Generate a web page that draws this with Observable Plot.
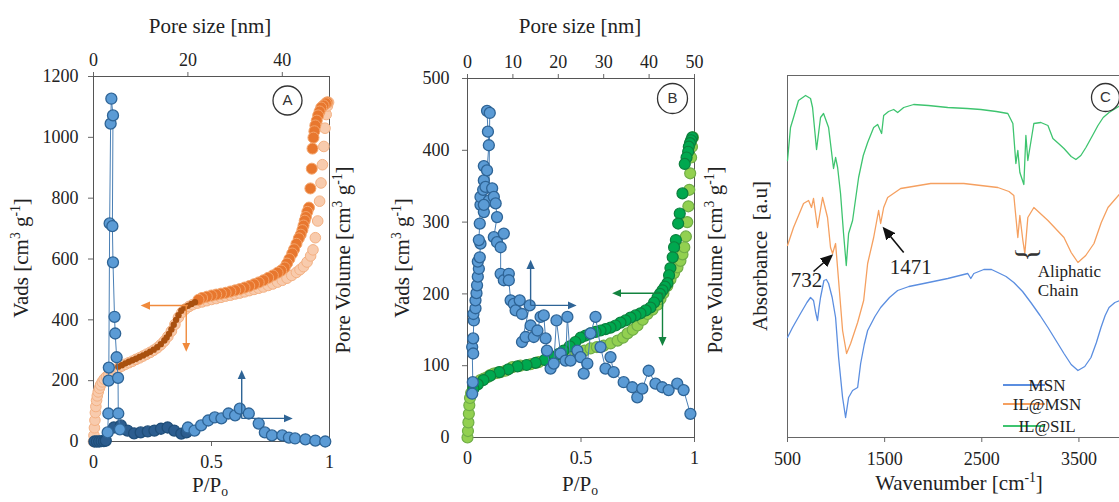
<!DOCTYPE html>
<html><head><meta charset="utf-8">
<script src="https://cdn.jsdelivr.net/npm/d3@7"></script>
<script src="https://cdn.jsdelivr.net/npm/@observablehq/plot@0.6"></script>
<style>
html,body{margin:0;padding:0;background:#fff;overflow:hidden}
#wrap{position:relative;width:1119px;height:502px;overflow:hidden;background:#fff}
#wrap svg{position:absolute;top:0;overflow:visible}
</style></head><body><div id="wrap"></div>
<script>
// ---------------- DATA ----------------
const PORE_MAX = 50; // top axis (pore size, nm) spans the same width as P/P0 0..1

// Panel A: N2 isotherm (P/P0, Vads cm3/g)
const adsorptionA = [[0,0],[0.002,20],[0.004,45],[0.006,70],[0.008,95],[0.010,115],[0.013,135],[0.016,150],[0.02,163],[0.025,175],[0.03,186],[0.037,196],[0.045,205],[0.055,213],[0.065,220],[0.078,228],[0.092,236],[0.105,242],[0.12,248],[0.135,254],[0.15,259],[0.165,264],[0.18,270],[0.195,275],[0.21,281],[0.225,287],[0.24,293],[0.255,300],[0.27,308],[0.285,318],[0.30,330],[0.315,345],[0.33,363],[0.345,385],[0.36,408],[0.375,425],[0.39,436],[0.405,444],[0.42,450],[0.44,455],[0.46,459],[0.48,463],[0.50,467],[0.52,470],[0.54,474],[0.56,478],[0.58,481],[0.60,485],[0.62,488],[0.64,492],[0.66,496],[0.68,500],[0.70,504],[0.72,508],[0.74,513],[0.76,518],[0.78,524],[0.80,530],[0.82,537],[0.84,546],[0.86,556],[0.875,565],[0.89,575],[0.905,590],[0.92,610],[0.93,630],[0.94,670],[0.95,725],[0.958,790],[0.964,850],[0.97,910],[0.976,970],[0.981,1030],[0.986,1075],[0.991,1103],[0.996,1115]];
const desorptionUpperA = [[0.99,1115],[0.985,1112],[0.975,1105],[0.965,1098],[0.958,1085],[0.952,1072],[0.946,1055],[0.94,1039],[0.936,1020],[0.932,999],[0.928,963],[0.925,897],[0.919,832],[0.913,769],[0.906,755],[0.9,738],[0.895,726],[0.89,710],[0.885,695],[0.878,680],[0.87,668],[0.86,650],[0.85,632],[0.842,618],[0.83,600],[0.82,585],[0.81,572],[0.795,562],[0.78,555],[0.76,546],[0.74,538],[0.72,530],[0.70,523],[0.68,517],[0.66,511],[0.64,506],[0.62,501],[0.60,497],[0.58,493],[0.56,489],[0.54,486],[0.52,483],[0.50,480],[0.48,476],[0.46,472],[0.445,466]];
const desorptionLowerA = [[0.43,458],[0.415,452],[0.40,446],[0.385,440],[0.372,430],[0.36,415],[0.35,400],[0.34,384],[0.33,368],[0.32,354],[0.31,342],[0.30,332],[0.285,320],[0.27,310],[0.255,302],[0.24,295],[0.225,289],[0.21,283],[0.195,278],[0.18,272],[0.165,267],[0.15,262],[0.135,257],[0.12,251],[0.105,246]];
// Panel A: pore size distribution (pore size nm, pore volume drawn on the unlabeled right axis)
const psdPeakA = [[3.0,30],[3.15,92],[3.2,200],[3.25,243],[3.42,717],[3.63,1045],[3.78,1127],[4.13,1072],[4.0,708],[4.13,589],[4.45,410],[4.6,355],[4.9,277],[5.2,209],[5.25,92],[5.6,40]];
const psdMidA = [[0.2,0],[0.7,0],[1.2,0],[1.7,1],[2.2,1],[2.6,3],[4.3,46],[5.8,53],[7.2,36],[8.6,27],[10.0,30],[11.5,33],[12.9,36],[14.3,42],[15.7,46],[17.1,36],[18.6,26],[19.7,30]];
const psdTailA = [[20.0,46],[21.4,36],[22.8,53],[24.3,69],[25.7,79],[27.1,76],[28.6,92],[30.0,86],[31.0,108],[32.9,92],[35.0,59],[36.3,30],[37.8,20],[40.0,20],[41.4,13],[42.7,10],[44.9,7],[47.0,3],[49.1,0]];
const isoArrowsA = [[0.40,447,0.214,447],[0.393,447,0.393,306]];      // P/P0, Vads
const psdArrowsA = [[31.4,76,31.4,224],[31.4,76,41.5,76]];            // nm, pore volume

// Panel B
const adsorptionB = [[0,0],[0.002,9],[0.004,21],[0.006,33],[0.008,45],[0.011,55],[0.016,62],[0.027,70],[0.042,76],[0.057,80],[0.072,82],[0.088,84],[0.1,87],[0.115,89],[0.13,90],[0.145,91],[0.167,93],[0.198,98],[0.233,100],[0.278,102],[0.313,105],[0.352,107],[0.366,110],[0.395,112],[0.423,114],[0.455,116],[0.484,119],[0.515,121],[0.542,124],[0.57,126],[0.6,128],[0.63,131],[0.661,135],[0.685,139],[0.705,145],[0.728,150],[0.749,156],[0.772,164],[0.793,172],[0.815,178],[0.837,185],[0.85,193],[0.863,201],[0.88,211],[0.894,220],[0.91,229],[0.925,237],[0.938,246],[0.947,255],[0.955,265],[0.962,280],[0.968,300],[0.973,322],[0.977,345],[0.981,368],[0.985,390],[0.989,405],[0.993,418]];
const desorptionB = [[0.99,418],[0.985,414],[0.98,410],[0.975,405],[0.972,398],[0.965,390],[0.957,381],[0.947,340],[0.935,312],[0.928,298],[0.918,275],[0.91,265],[0.904,251],[0.894,236],[0.888,226],[0.881,215],[0.87,210],[0.859,205],[0.848,200],[0.837,195],[0.822,188],[0.806,181],[0.785,177],[0.762,173],[0.74,170],[0.718,167],[0.696,163],[0.674,160],[0.652,156],[0.63,153],[0.608,151],[0.586,149],[0.564,147],[0.542,145],[0.52,142],[0.498,139],[0.475,133],[0.45,127],[0.423,121],[0.4,116],[0.37,112],[0.34,108],[0.3,104],[0.26,101],[0.22,99],[0.18,95],[0.14,91],[0.1,86],[0.07,80],[0.045,74],[0.026,68]];
const psdB = [[1.03,61],[1.17,77],[1.03,126],[1.25,117],[1.25,138],[1.4,163],[1.3,172],[1.76,180],[1.76,191],[1.98,201],[2.1,212],[2.27,224],[2.5,235],[2.27,245],[2.7,251],[2.86,270],[2.5,275],[2.7,298],[2.86,324],[2.86,335],[3.45,345],[3.6,358],[3.6,378],[4.3,372],[4.7,407],[4.5,426],[4.3,455],[4.9,452],[4.7,330],[3.6,314],[3.96,349],[3.6,324],[5.43,347],[5.8,335],[6.2,326],[6.5,307],[5.8,279],[6.5,272],[8.0,284],[7.3,265],[7.3,228],[8.0,219],[9.1,228],[9.1,219],[9.5,191],[10.2,186],[10.6,177],[11.5,191],[12.0,172],[13.7,184],[12.0,133],[12.8,140],[13.9,156],[14.6,140],[15.4,149],[16.1,168],[16.8,170],[17.2,138],[17.5,121],[18.3,96],[19.0,103],[19.6,163],[20.5,117],[21.6,107],[22.0,168],[22.7,107],[24.2,121],[24.9,112],[25.6,89],[26.4,103],[27.1,145],[28.2,168],[29.3,126],[30.4,96],[31.5,112],[32.2,91],[34.4,77],[36.3,70],[37.4,56],[38.5,68],[39.9,93],[41.4,75],[42.9,70],[44.3,66],[46.2,75],[47.6,66],[49.1,33]];
const isoArrowsB = [[0.859,201,0.652,201],[0.859,201,0.859,132]];
const psdArrowsB = [[13.9,184,13.9,243],[13.9,184,23.3,184]];

// Panel C: FTIR (wavenumber cm-1, absorbance a.u.)
const ftirMSN = [[500,100],[552,110],[634,124],[700,135],[737,140],[768,137],[790,125],[809,117],[825,130],[840,140],[875,157],[900,158],[923,154],[960,140],[995,120],[1026,80],[1067,40],[1098,20],[1129,40],[1170,47],[1222,50],[1253,74],[1290,93],[1325,107],[1400,121],[1459,130],[1550,140],[1634,147],[1750,151],[1902,154],[2150,159],[2356,164],[2387,159],[2418,164],[2521,168],[2600,168],[2665,165],[2750,161],[2830,155],[2920,146],[3005,135],[3100,122],[3181,110],[3270,96],[3346,84],[3420,73],[3490,67],[3560,71],[3624,80],[3680,95],[3727,110],[3770,122],[3810,130],[3870,135],[3923,137],[4000,138]];
const ftirILMSN = [[500,192],[562,210],[665,234],[717,237],[747,230],[768,239],[809,210],[861,240],[912,220],[943,190],[964,184],[995,194],[1026,157],[1067,107],[1108,84],[1150,94],[1222,115],[1284,137],[1325,174],[1387,200],[1438,227],[1459,214],[1490,230],[1531,240],[1665,249],[1974,254],[2315,254],[2665,250],[2780,246],[2830,242],[2871,200],[2892,222],[2923,197],[2943,184],[2974,220],[3036,230],[3181,217],[3346,200],[3420,185],[3490,175],[3570,182],[3655,194],[3730,215],[3799,230],[3923,244],[4000,248]];
const ftirILSIL = [[500,277],[531,310],[562,320],[613,337],[686,342],[737,339],[758,330],[799,288],[840,320],[871,324],[923,310],[964,277],[974,269],[995,280],[1016,270],[1046,244],[1077,204],[1105,172],[1129,204],[1170,217],[1232,260],[1280,282],[1325,295],[1387,310],[1428,313],[1469,304],[1490,322],[1540,326],[1593,328],[1634,325],[1696,330],[1799,333],[1950,332],[2150,330],[2350,329],[2490,328],[2650,326],[2768,324],[2820,314],[2851,274],[2871,287],[2892,265],[2933,253],[2954,302],[2974,277],[3036,314],[3108,315],[3181,312],[3232,299],[3290,294],[3346,289],[3420,281],[3469,278],[3520,282],[3572,290],[3640,302],[3696,312],[3750,320],[3810,325],[3923,332],[4000,336]];
const ftirSeries = ["MSN", "IL@MSN", "IL@SIL"];
const ftirArrows = [[768,166,933,180],[1696,185,1510,207]];
const ftirNotes = [["732",696,157],["1471",1768,170]];
const aliphaticNote = ["Aliphatic","Chain"];

// ticks
const pTicks = [0, 0.5, 1];
const poreTicksA = [0, 20, 40];
const poreTicksB = [0, 10, 20, 30, 40, 50];
const vadsTicksA = [0, 200, 400, 600, 800, 1000, 1200];
const vadsTicksB = [0, 100, 200, 300, 400, 500];
const wnTicks = [500, 1500, 2500, 3500];

// ---------------- RENDER ----------------
const SERIF = "'Liberation Serif','Times New Roman',serif";
const SANS = "'Liberation Sans',Arial,sans-serif";
const xy = a => a.map(([x, y]) => ({x, y}));
const seg = a => a.map(([x1, y1, x2, y2]) => ({x1, y1, x2, y2}));
const fmt = d => String(d);
const wrap = d3.select("#wrap");
const baseStyle = {fontFamily: SERIF, fontSize: "18px", color: "#222", background: "none", overflow: "visible"};

function richText(svg, {x, y, rotate = 0, size = 21, anchor = "middle", family = SERIF}, parts) {
  const t = svg.append("text").attr("transform", `translate(${x},${y}) rotate(${rotate})`)
    .attr("text-anchor", anchor).attr("font-family", family).attr("font-size", size).attr("fill", "#222");
  let shift = 0;
  for (const [s, kind] of parts) {
    const target = kind === "sup" ? -0.36 * size : kind === "sub" ? 0.2 * size : 0;
    const ts = t.append("tspan").text(s).attr("dy", target - shift);
    if (kind) ts.attr("font-size", size * 0.65);
    shift = target;
  }
}
function fillMarkers(svg, size = 8) {
  svg.selectAll("marker").each(function () {
    const m = d3.select(this);
    const col = m.attr("stroke");
    m.attr("fill", col).attr("stroke", "none").attr("markerWidth", size).attr("markerHeight", size);
    m.select("path").attr("d", "M-6,-4L3,0L-6,4Z");
  });
}
const circleLabel = (letter, dx, dy, r) => [
  Plot.dot([letter], {frameAnchor: "top-right", dx, dy, r, fill: "white", stroke: "#333", strokeWidth: 1.3}),
  Plot.text([letter], {frameAnchor: "top-right", dx, dy, text: d => d, textAnchor: "middle", lineAnchor: "middle", fontFamily: SANS, fontSize: 15, fill: "#333"})
];
const unit = [["["], ["cm"], ["3", "sup"], [" g"], ["-1", "sup"], ["]"]];

// Panel A
const A = Plot.plot({
  width: 370, height: 502, marginLeft: 93, marginRight: 41, marginTop: 76, marginBottom: 61,
  x: {domain: [0, 1]}, y: {domain: [0, 1200]}, style: baseStyle,
  marks: [
    Plot.axisX({anchor: "bottom", ticks: pTicks, tickFormat: fmt, tickSize: 5, tickPadding: 9, label: null, stroke: "#666"}),
    Plot.axisX({anchor: "top", ticks: poreTicksA.map(d => d / PORE_MAX), tickFormat: d => String(Math.round(d * PORE_MAX)), tickSize: 5, tickPadding: 6, label: null, stroke: "#666"}),
    Plot.axisY({ticks: vadsTicksA, tickFormat: fmt, tickSize: 5, tickPadding: 10, label: null, stroke: "#666"}),
    Plot.frame({stroke: "#555"}),
    Plot.dot(xy(adsorptionA), {x: "x", y: "y", r: 5.3, fill: "#f8cbad", stroke: "#f4b183", strokeWidth: 1}),
    Plot.dot(xy(desorptionUpperA), {x: "x", y: "y", r: 5.5, fill: "#e8772e", stroke: "#f4a46a", strokeWidth: 1}),
    Plot.dot(xy(desorptionLowerA), {x: "x", y: "y", r: 3.2, fill: "#a9500f"}),
    Plot.line(xy(psdMidA), {x: d => d.x / PORE_MAX, y: "y", stroke: "#1f4e79", strokeWidth: 1}),
    Plot.dot(xy(psdMidA), {x: d => d.x / PORE_MAX, y: "y", r: 5.5, fill: "#2c5d8f", stroke: "#1f4e79", strokeWidth: 1.3}),
    Plot.line(xy(psdPeakA), {x: d => d.x / PORE_MAX, y: "y", stroke: "#4a7fb5", strokeWidth: 1}),
    Plot.dot(xy(psdPeakA), {x: d => d.x / PORE_MAX, y: "y", r: 5.5, fill: "#5b9bd5", stroke: "#2e6496", strokeWidth: 1.3}),
    Plot.line(xy(psdTailA), {x: d => d.x / PORE_MAX, y: "y", stroke: "#4a7fb5", strokeWidth: 1}),
    Plot.dot(xy(psdTailA), {x: d => d.x / PORE_MAX, y: "y", r: 5.5, fill: "#5b9bd5", stroke: "#2e6496", strokeWidth: 1.3}),
    Plot.link(seg(isoArrowsA), {x1: "x1", y1: "y1", x2: "x2", y2: "y2", stroke: "#f08a3c", strokeWidth: 1.4, markerEnd: "arrow"}),
    Plot.link(seg(psdArrowsA), {x1: d => d.x1 / PORE_MAX, y1: "y1", x2: d => d.x2 / PORE_MAX, y2: "y2", stroke: "#2e6496", strokeWidth: 1.4, markerEnd: "arrow"}),
    ...circleLabel("A", -42, 24, 14.5)
  ]
});
wrap.node().appendChild(A); d3.select(A).style("left", "0px");
{
  const s = d3.select(A); fillMarkers(s);
  richText(s, {x: 210, y: 33}, [["Pore size [nm]"]]);
  richText(s, {x: 28, y: 258, rotate: -90}, [["Vads "], ...unit]);
  richText(s, {x: 350, y: 260, rotate: -90}, [["Pore Volume "], ...unit]);
  richText(s, {x: 210, y: 492}, [["P/P"], ["o", "sub"]]);
}

// Panel B
const B = Plot.plot({
  width: 380, height: 502, marginLeft: 97, marginRight: 56, marginTop: 78, marginBottom: 65,
  x: {domain: [0, 1]}, y: {domain: [0, 500]}, style: baseStyle,
  marks: [
    Plot.axisX({anchor: "bottom", ticks: pTicks, tickFormat: fmt, tickSize: 5, tickPadding: 9, label: null, stroke: "#666"}),
    Plot.axisX({anchor: "top", ticks: poreTicksB.map(d => d / PORE_MAX), tickFormat: d => String(Math.round(d * PORE_MAX)), tickSize: 5, tickPadding: 6, label: null, stroke: "#666"}),
    Plot.axisY({ticks: vadsTicksB, tickFormat: fmt, tickSize: 5, tickPadding: 13, label: null, stroke: "#666"}),
    Plot.frame({stroke: "#555"}),
    Plot.dot(xy(adsorptionB), {x: "x", y: "y", r: 5.5, fill: "#92d050", stroke: "#70ad47", strokeWidth: 1.2}),
    Plot.dot(xy(desorptionB), {x: "x", y: "y", r: 5.5, fill: "#00a84f", stroke: "#0b7f3c", strokeWidth: 1.2}),
    Plot.line(xy(psdB), {x: d => d.x / PORE_MAX, y: "y", stroke: "#4a7fb5", strokeWidth: 1}),
    Plot.dot(xy(psdB), {x: d => d.x / PORE_MAX, y: "y", r: 5.5, fill: "#5b9bd5", stroke: "#2e6496", strokeWidth: 1.3}),
    Plot.link(seg(isoArrowsB), {x1: "x1", y1: "y1", x2: "x2", y2: "y2", stroke: "#13833f", strokeWidth: 1.4, markerEnd: "arrow"}),
    Plot.link(seg(psdArrowsB), {x1: d => d.x1 / PORE_MAX, y1: "y1", x2: d => d.x2 / PORE_MAX, y2: "y2", stroke: "#2e6496", strokeWidth: 1.4, markerEnd: "arrow"}),
    ...circleLabel("B", -22, 20, 15)
  ]
});
wrap.node().appendChild(B); d3.select(B).style("left", "370px");
{
  const s = d3.select(B); fillMarkers(s);
  richText(s, {x: 210, y: 33}, [["Pore size [nm]"]]);
  richText(s, {x: 39, y: 258, rotate: -90}, [["Vads "], ...unit]);
  richText(s, {x: 352, y: 260, rotate: -90}, [["Pore Volume "], ...unit]);
  richText(s, {x: 210, y: 491}, [["P/P"], ["o", "sub"]]);
}

// Panel C
const ftirData = [ftirMSN, ftirILMSN, ftirILSIL];
const ftirColors = ["#5b8ee0", "#f5a060", "#3ec46f"];
const C = Plot.plot({
  width: 400, height: 502, marginLeft: 37, marginRight: 23, marginTop: 75, marginBottom: 65,
  x: {domain: [500, 4000]}, y: {domain: [0, 362], axis: null}, style: baseStyle,
  marks: [
    Plot.axisX({anchor: "bottom", ticks: wnTicks, tickFormat: fmt, tickSize: 5, tickPadding: 10, label: null, stroke: "#666"}),
    Plot.frame({stroke: "#666"}),
    ...ftirData.map((arr, i) => Plot.line(xy(arr), {x: "x", y: "y", stroke: ftirColors[i], strokeWidth: 1.3})),
    Plot.link(seg(ftirArrows), {x1: "x1", y1: "y1", x2: "x2", y2: "y2", stroke: "#111", strokeWidth: 1.6, markerEnd: "arrow"}),
    Plot.text(ftirNotes, {x: d => d[1], y: d => d[2], text: d => d[0], fontFamily: SERIF, fontSize: 21, fill: "#222"}),
    Plot.text([aliphaticNote.join("\n")], {x: () => 3077, y: () => 157, text: d => d, textAnchor: "start", lineHeight: 1.12, fontFamily: SERIF, fontSize: 17, fill: "#222"}),
    Plot.text(["}"], {x: () => 2995, y: () => 183, text: d => d, rotate: 90, fontFamily: SERIF, fontSize: 30, fill: "#333"}),
    ...circleLabel("C", -22, 22, 14)
  ]
});
wrap.node().appendChild(C); d3.select(C).style("left", "750px");
{
  const s = d3.select(C); fillMarkers(s, 10);
  richText(s, {x: 17, y: 256, rotate: -90}, [["Absorbance  [a.u]"]]);
  richText(s, {x: 209, y: 490}, [["Wavenumber [cm"], ["-1", "sup"], ["]"]]);
  const ly = [385, 404, 426];
  const lg = s.append("g");
  ftirSeries.forEach((name, i) => {
    lg.append("line").attr("x1", 253).attr("x2", 295).attr("y1", ly[i]).attr("y2", ly[i]).attr("stroke", ftirColors[i]).attr("stroke-width", 1.8);
    lg.append("text").attr("x", 297).attr("y", ly[i] + 6).attr("font-family", SERIF).attr("font-size", 17).attr("fill", "#222").text(name);
  });
}
</script></body></html>
